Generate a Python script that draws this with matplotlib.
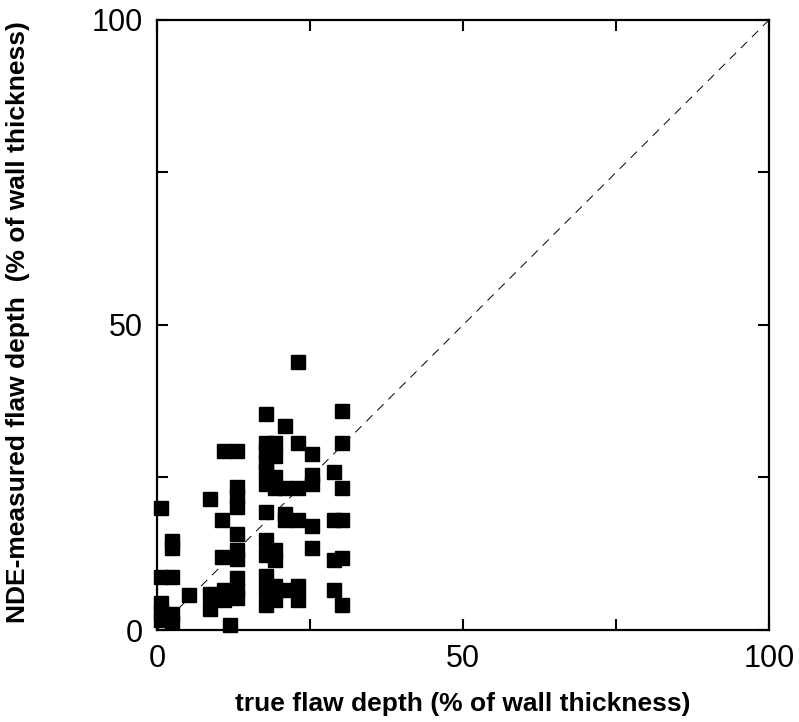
import numpy as np
import matplotlib.pyplot as plt

plt.rcParams.update({
    "font.family": ["Liberation Sans", "DejaVu Sans"],
})

# ── Data (% of wall thickness) ───────────────────────────────────────────────
true_depth = [
    0.6, 0.6, 0.6, 0.6, 0.6,
    2.5, 2.5, 2.5, 2.5, 2.5,
    5.2,
    8.6, 8.6, 8.6,
    11.0, 10.6, 10.6, 11.0, 11.0, 12.0,
    13.0, 13.0, 13.0, 13.0, 13.0, 13.0, 13.0, 13.0, 13.0, 13.0,
    17.8, 17.8, 17.8, 17.8, 17.8, 17.8, 17.8, 17.8, 17.8, 17.8, 17.8, 17.8,
    19.3, 19.3, 19.3, 19.3, 19.3, 19.3, 19.3, 19.3,
    20.9, 20.9, 20.9, 20.9, 20.9,
    23.0, 23.0, 23.0, 23.0, 23.0, 23.0,
    25.3, 25.3, 25.3, 25.3, 25.3,
    29.0, 29.0, 29.0, 29.0,
    30.2, 30.2, 30.2, 30.2, 30.2, 30.2,
]
nde_depth = [
    20.0, 8.7, 4.4, 3.0, 1.6,
    14.6, 13.4, 8.7, 2.6, 1.3,
    5.8,
    21.5, 5.9, 3.4,
    29.3, 18.0, 12.0, 6.5, 5.0, 0.9,
    29.3, 23.4, 22.0, 20.2, 15.7, 13.1, 11.6, 8.5, 6.5, 5.3,
    35.4, 30.7, 29.4, 27.5, 26.0, 24.0, 19.3, 14.7, 12.3, 8.9, 6.6, 4.1,
    30.7, 28.5, 25.0, 23.3, 13.1, 11.5, 7.2, 5.0,
    33.4, 23.3, 19.0, 18.0, 6.6,
    44.0, 30.7, 23.3, 18.0, 7.2, 5.0,
    28.9, 25.4, 24.0, 17.1, 13.5,
    25.9, 18.0, 11.5, 6.5,
    35.9, 30.7, 23.3, 18.0, 11.8, 4.1,
]
ticks = [0, 25, 50, 75, 100]
tick_labels = ["0", "", "50", "", "100"]

fig = plt.figure(figsize=(7.99, 7.22), dpi=100)
ax = fig.add_axes([0.1965, 0.1274, 0.766, 0.845])

# 1:1 reference line
ax.plot([0, 100], [0, 100], color="black", linewidth=0.7, linestyle=(0, (9, 7)))
ax.plot(true_depth, nde_depth, linestyle="none", marker="s", markersize=10.5,
        color="black", clip_on=False)

ax.set_xlim(0, 100)
ax.set_ylim(0, 100)
ax.set_xticks(ticks)
ax.set_yticks(ticks)
ax.set_xticklabels(tick_labels, fontsize=22)
ax.set_yticklabels(tick_labels, fontsize=22)
ax.tick_params(direction="in", length=8, width=1.5, top=True, right=True, pad=10)
for s in ax.spines.values():
    s.set_linewidth(1.6)

ax.set_xlabel("true flaw depth (% of wall thickness)", fontsize=19,
              fontweight="bold")
ax.set_ylabel("NDE-measured flaw depth  (% of wall thickness)", fontsize=19,
              fontweight="bold")
ax.xaxis.set_label_coords(0.5, -0.101)
ax.yaxis.set_label_coords(-0.208, 0.505)

plt.savefig("out.png", dpi=100)
